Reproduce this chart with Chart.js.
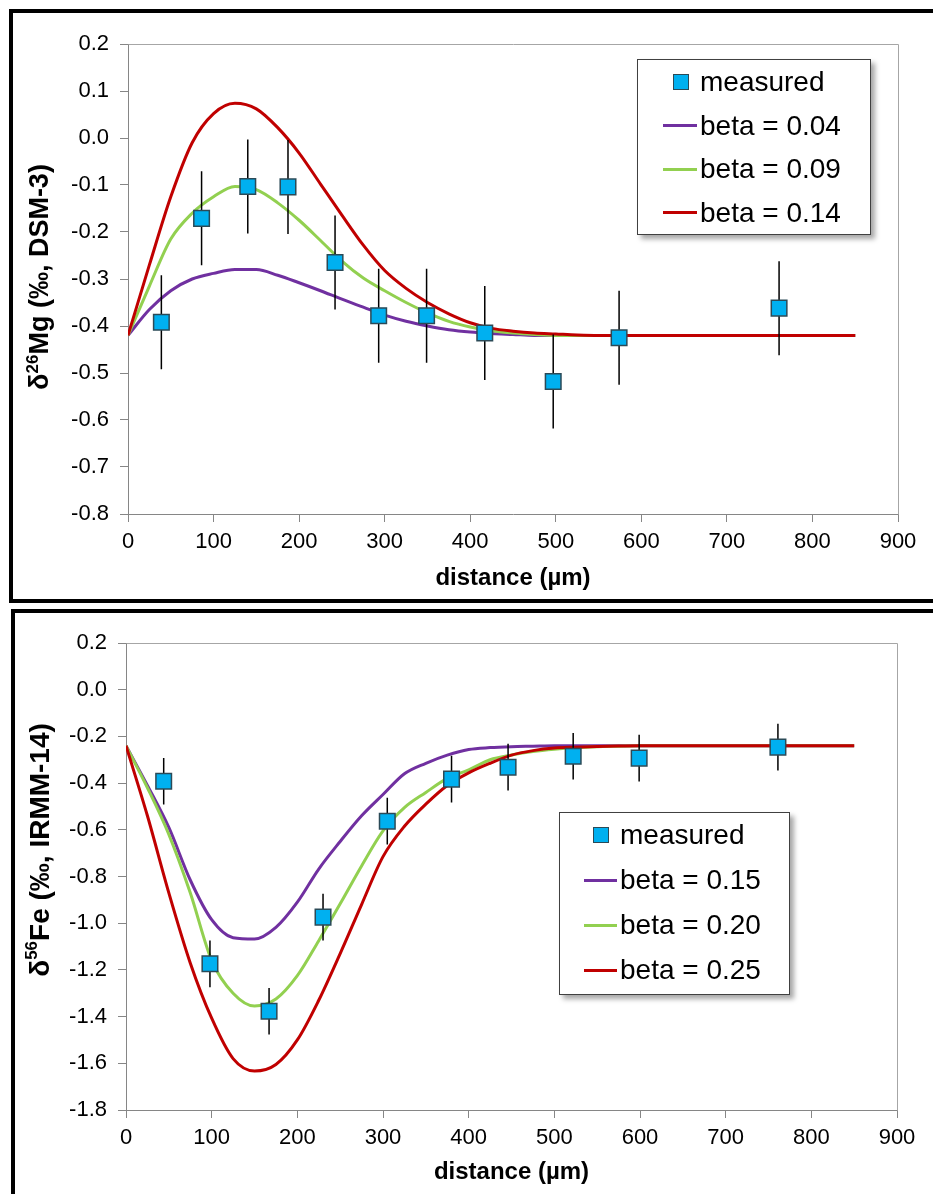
<!DOCTYPE html>
<html>
<head>
<meta charset="utf-8">
<title>Mg and Fe isotope diffusion profiles</title>
<script src="https://cdn.jsdelivr.net/npm/chart.js@4.4.1/dist/chart.umd.min.js"></script>
<style>
  html, body { margin: 0; padding: 0; background: #fff; width: 933px; height: 1194px; overflow: hidden; }
  canvas { position: absolute; left: 0; }
  .panel { position: absolute; border: 4px solid #000; box-sizing: border-box; pointer-events: none; }
  .legend { position: absolute; background: #fff; border: 1px solid #404040; box-sizing: border-box;
            box-shadow: 4px 4px 5px rgba(0,0,0,0.35); font-family: 'Liberation Sans', Arial, sans-serif;
            font-size: 28px; color: #000; }
  .legend .row { position: absolute; left: 0; width: 100%; height: 0; }
  .legend .mark { position: absolute; width: 16px; height: 16px; top: -8px; box-sizing: border-box;
                  background: #00b0f0; border: 1.5px solid #2b4a57; }
  .legend .swatch { position: absolute; height: 3px; top: -1.5px; }
  .legend .txt { position: absolute; top: 0; transform: translateY(-50%); line-height: 32px; white-space: nowrap; }
</style>
</head>
<body>
<canvas id="mgChart" width="933" height="600" style="top:0;width:933px;height:600px"></canvas>
<canvas id="feChart" width="933" height="594" style="top:600px;width:933px;height:594px"></canvas>
<div class="panel" style="left:9px;top:9px;width:1000px;height:594px"></div>
<div class="panel" style="left:11px;top:609px;width:1000px;height:700px"></div>
<div class="legend" id="mgLegend" style="left:637px;top:59px;width:234px;height:176px"></div>
<div class="legend" id="feLegend" style="left:559px;top:812px;width:231px;height:183px"></div>

<script>
// Model grid (µm) shared by all diffusion curves
const distance = [0, 25, 50, 75, 100, 125, 150, 175, 200, 225, 250, 275, 300, 325, 350, 375, 400, 425,
                  450, 475, 500, 525, 550, 575, 600, 625, 650, 675, 700, 725, 750, 775, 800, 825, 850];

// δ26Mg: measured profile
const mgDistance = [39, 86, 140, 187, 242, 293, 349, 417, 497, 574, 761];
const mgDelta    = [-0.392, -0.171, -0.103, -0.104, -0.265, -0.378, -0.378, -0.415, -0.518, -0.425, -0.362];
const mgError    = [0.1, 0.1, 0.1, 0.1, 0.1, 0.1, 0.1, 0.1, 0.1, 0.1, 0.1];

// δ26Mg: model curves
const mgBeta004 = [-0.42, -0.365, -0.325, -0.30, -0.288, -0.28, -0.28, -0.292, -0.308, -0.325, -0.343, -0.36,
                   -0.377, -0.39, -0.40, -0.408, -0.413, -0.416, -0.418, -0.42, -0.42, -0.42, -0.42, -0.42,
                   -0.42, -0.42, -0.42, -0.42, -0.42, -0.42, -0.42, -0.42, -0.42, -0.42, -0.42];
const mgBeta009 = [-0.42, -0.315, -0.215, -0.16, -0.125, -0.103, -0.11, -0.138, -0.175, -0.218, -0.262, -0.298,
                   -0.325, -0.35, -0.372, -0.39, -0.402, -0.41, -0.415, -0.418, -0.42, -0.42, -0.42, -0.42,
                   -0.42, -0.42, -0.42, -0.42, -0.42, -0.42, -0.42, -0.42, -0.42, -0.42, -0.42];
const mgBeta014 = [-0.42, -0.27, -0.125, -0.01, 0.052, 0.074, 0.062, 0.022, -0.032, -0.098, -0.164, -0.228,
                   -0.282, -0.32, -0.35, -0.374, -0.393, -0.405, -0.411, -0.415, -0.417, -0.419, -0.42, -0.42,
                   -0.42, -0.42, -0.42, -0.42, -0.42, -0.42, -0.42, -0.42, -0.42, -0.42, -0.42];

// δ56Fe: measured profile
const feDistance = [44, 98, 167, 230, 305, 380, 446, 522, 599, 761];
const feDelta    = [-0.392, -1.174, -1.377, -0.974, -0.563, -0.383, -0.332, -0.285, -0.293, -0.246];
const feError    = [0.1, 0.1, 0.1, 0.1, 0.1, 0.1, 0.1, 0.1, 0.1, 0.1];

// δ56Fe: model curves
const feBeta015 = [-0.24, -0.41, -0.59, -0.815, -0.985, -1.062, -1.068, -1.018, -0.91, -0.768, -0.65, -0.54,
                   -0.449, -0.36, -0.315, -0.28, -0.256, -0.248, -0.244, -0.242, -0.24, -0.24, -0.24, -0.24,
                   -0.24, -0.24, -0.24, -0.24, -0.24, -0.24, -0.24, -0.24, -0.24, -0.24, -0.24];
const feBeta020 = [-0.24, -0.42, -0.62, -0.87, -1.16, -1.3, -1.355, -1.325, -1.225, -1.075, -0.917, -0.755,
                   -0.605, -0.505, -0.44, -0.38, -0.343, -0.30, -0.28, -0.265, -0.255, -0.248, -0.244, -0.242,
                   -0.24, -0.24, -0.24, -0.24, -0.24, -0.24, -0.24, -0.24, -0.24, -0.24, -0.24];
const feBeta025 = [-0.24, -0.54, -0.87, -1.17, -1.407, -1.58, -1.633, -1.605, -1.50, -1.33, -1.13, -0.92,
                   -0.715, -0.585, -0.49, -0.41, -0.356, -0.315, -0.28, -0.261, -0.25, -0.246, -0.243, -0.241,
                   -0.24, -0.24, -0.24, -0.24, -0.24, -0.24, -0.24, -0.24, -0.24, -0.24, -0.24];

// Axis ticks
const xTicks   = [0, 100, 200, 300, 400, 500, 600, 700, 800, 900];
const mgYTicks = [-0.8, -0.7, -0.6, -0.5, -0.4, -0.3, -0.2, -0.1, 0.0, 0.1, 0.2];
const feYTicks = [-1.8, -1.6, -1.4, -1.2, -1.0, -0.8, -0.6, -0.4, -0.2, 0.0, 0.2];

// Series labels and colours
const mgLabels = ['beta = 0.04', 'beta = 0.09', 'beta = 0.14'];
const feLabels = ['beta = 0.15', 'beta = 0.20', 'beta = 0.25'];
const curveColors = ['#7030a0', '#92d050', '#c00000'];

const FONT = "'Liberation Sans', Arial, Helvetica, sans-serif";
const AXIS_GREY = '#868686';

// Rotated y-axis title with a raised mass number (δ²⁶Mg, δ⁵⁶Fe)
const isoTitlePlugin = {
  id: 'isoTitle',
  afterDraw(chart, args, opts) {
    if (!opts || !opts.parts) return;
    const ctx = chart.ctx;
    const size = opts.size;
    const big = `bold ${size}px ${FONT}`;
    const small = `bold ${Math.round(size * 0.62)}px ${FONT}`;
    ctx.save();
    let total = 0;
    opts.parts.forEach(p => { ctx.font = p.sup ? small : big; total += ctx.measureText(p.text).width; });
    ctx.translate(opts.x, opts.y);
    ctx.rotate(-Math.PI / 2);
    ctx.fillStyle = '#000';
    ctx.textBaseline = 'middle';
    ctx.textAlign = 'left';
    let pos = -total / 2;
    opts.parts.forEach(p => {
      ctx.font = p.sup ? small : big;
      ctx.fillText(p.text, pos, p.sup ? -size * 0.3 : 0);
      pos += ctx.measureText(p.text).width;
    });
    ctx.restore();
  }
};

// Light frame around the plot area (top and right edges)
const plotFramePlugin = {
  id: 'plotFrame',
  beforeDatasetsDraw(chart) {
    const a = chart.chartArea;
    const ctx = chart.ctx;
    ctx.save();
    ctx.strokeStyle = '#a6a6a6';
    ctx.lineWidth = 1;
    ctx.beginPath();
    ctx.moveTo(Math.round(a.left) + 0.5, Math.round(a.top) + 0.5);
    ctx.lineTo(Math.round(a.right) + 0.5, Math.round(a.top) + 0.5);
    ctx.lineTo(Math.round(a.right) + 0.5, Math.round(a.bottom) + 0.5);
    ctx.stroke();
    ctx.restore();
  }
};

function profileChart(canvasId, cfg) {
  const canvas = document.getElementById(canvasId);
  const W = canvas.width, H = canvas.height;
  const datasets = [];

  datasets.push({
    label: 'measured',
    data: cfg.mx.map((x, i) => ({ x: x, y: cfg.my[i] })),
    showLine: false,
    pointStyle: 'rect',
    pointRadius: 11,
    pointHoverRadius: 11,
    backgroundColor: '#00b0f0',
    borderColor: '#2b4a57',
    borderWidth: 1.5,
    order: 0
  });

  // ± error bars as one broken line (null breaks the path between bars)
  const bars = [];
  cfg.mx.forEach((x, i) => {
    bars.push({ x: x, y: cfg.my[i] - cfg.me[i] });
    bars.push({ x: x, y: cfg.my[i] + cfg.me[i] });
    bars.push({ x: x, y: null });
  });
  datasets.push({
    label: 'error',
    data: bars,
    spanGaps: false,
    pointRadius: 0,
    borderColor: '#000',
    borderWidth: 1.5,
    order: 1
  });

  cfg.curves.forEach((values, k) => {
    datasets.push({
      label: cfg.labels[k],
      data: distance.map((x, i) => ({ x: x, y: values[i] })),
      pointRadius: 0,
      borderColor: curveColors[k],
      backgroundColor: curveColors[k],
      borderWidth: 3,
      cubicInterpolationMode: 'monotone',
      order: 2 + (cfg.curves.length - 1 - k)
    });
  });

  const area = cfg.area;
  return new Chart(canvas, {
    type: 'line',
    data: { datasets: datasets },
    plugins: [plotFramePlugin, isoTitlePlugin],
    options: {
      responsive: false,
      devicePixelRatio: 1,
      animation: false,
      layout: { padding: { left: 0, top: area.top, right: W - area.right, bottom: 0 } },
      plugins: {
        legend: { display: false },
        tooltip: { enabled: false },
        isoTitle: { parts: cfg.yTitle, size: cfg.yTitleSize, x: 41, y: cfg.yTitleCenter }
      },
      scales: {
        x: {
          type: 'linear',
          min: 0, max: 900,
          afterBuildTicks: s => { s.ticks = xTicks.map(v => ({ value: v })); },
          afterFit: s => { s.height = H - area.bottom; },
          grid: { drawOnChartArea: false, drawTicks: true, tickLength: 8, color: AXIS_GREY },
          border: { display: true, color: AXIS_GREY, width: 1 },
          ticks: { color: '#000', font: { family: FONT, size: 22 }, padding: 7, maxRotation: 0, autoSkip: false,
                   callback: v => String(v) },
          title: { display: true, text: 'distance (µm)', color: '#000',
                   font: { family: FONT, size: 24, weight: 'bold' }, padding: { top: 0, bottom: 7 } }
        },
        y: {
          type: 'linear',
          min: cfg.yTicks[0], max: cfg.yTicks[cfg.yTicks.length - 1],
          afterBuildTicks: s => { s.ticks = cfg.yTicks.map(v => ({ value: v })); },
          afterFit: s => { s.width = area.left; },
          grid: { drawOnChartArea: false, drawTicks: true, tickLength: 8, color: AXIS_GREY },
          border: { display: true, color: AXIS_GREY, width: 1 },
          ticks: { color: '#000', font: { family: FONT, size: 22 }, padding: 11, autoSkip: false,
                   callback: v => Number(v).toFixed(1) },
          title: { display: false }
        }
      }
    }
  });
}

function buildLegend(elId, labels, geo) {
  const el = document.getElementById(elId);
  const rows = [{ label: 'measured', marker: true }].concat(labels.map((l, k) => ({ label: l, color: curveColors[k] })));
  rows.forEach((r, i) => {
    const row = document.createElement('div');
    row.className = 'row';
    row.style.top = (geo.first + i * geo.step) + 'px';
    if (r.marker) {
      const m = document.createElement('div');
      m.className = 'mark';
      m.style.left = (geo.markX - 8) + 'px';
      row.appendChild(m);
    } else {
      const s = document.createElement('div');
      s.className = 'swatch';
      s.style.left = geo.lineX0 + 'px';
      s.style.width = (geo.lineX1 - geo.lineX0) + 'px';
      s.style.background = r.color;
      row.appendChild(s);
    }
    const t = document.createElement('span');
    t.className = 'txt';
    t.style.left = geo.textX + 'px';
    t.textContent = r.label;
    row.appendChild(t);
    el.appendChild(row);
  });
}

profileChart('mgChart', {
  mx: mgDistance, my: mgDelta, me: mgError,
  curves: [mgBeta004, mgBeta009, mgBeta014],
  labels: mgLabels,
  yTicks: mgYTicks,
  yTitle: [{ text: 'δ' }, { text: '26', sup: true }, { text: 'Mg (‰, DSM-3)' }],
  yTitleSize: 27,
  yTitleCenter: 277,
  area: { left: 128, top: 44, right: 898, bottom: 514 }
});

profileChart('feChart', {
  mx: feDistance, my: feDelta, me: feError,
  curves: [feBeta015, feBeta020, feBeta025],
  labels: feLabels,
  yTicks: feYTicks,
  yTitle: [{ text: 'δ' }, { text: '56', sup: true }, { text: 'Fe (‰, IRMM-14)' }],
  yTitleSize: 28,
  yTitleCenter: 250,
  area: { left: 126, top: 43, right: 897, bottom: 510 }
});

buildLegend('mgLegend', mgLabels, { first: 22, step: 43.5, markX: 43, lineX0: 25, lineX1: 59, textX: 62 });
buildLegend('feLegend', feLabels, { first: 22, step: 45, markX: 41, lineX0: 24, lineX1: 57, textX: 60 });
</script>
</body>
</html>
